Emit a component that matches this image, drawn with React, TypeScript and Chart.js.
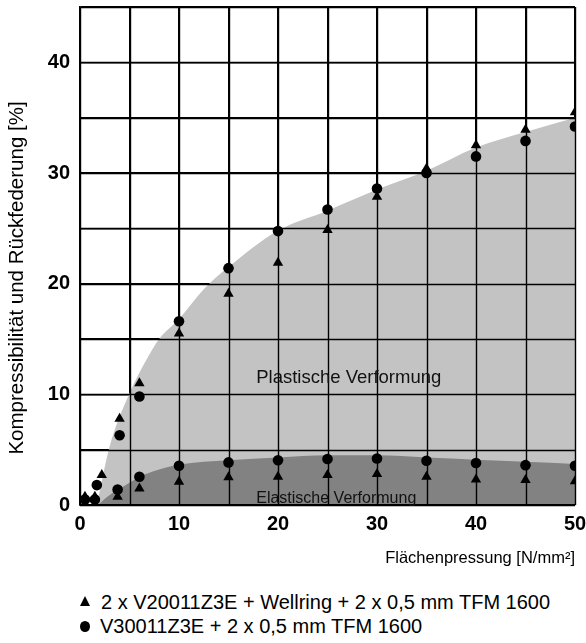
import { useEffect, useRef } from 'react';
import { Chart, registerables } from 'chart.js';

Chart.register(...registerables);

// Triangle series: 2 x V20011Z3E + Wellring + 2 x 0,5 mm TFM 1600
const triTotalX = [0.5, 1.5, 2.2, 4, 6, 10, 15, 20, 25, 30, 35, 40, 45, 50];
const triTotal = [0.75, 0.75, 2.7, 7.8, 11.0, 15.5, 19.1, 21.9, 24.85, 27.85, 30.4, 32.5, 33.9, 35.5];
const triElasticX = [3.8, 6, 10, 15, 20, 25, 30, 35, 40, 45, 50];
const triElastic = [0.75, 1.5, 2.1, 2.5, 2.55, 2.7, 2.8, 2.55, 2.3, 2.25, 2.15];

// Circle series: V30011Z3E + 2 x 0,5 mm TFM 1600
const circTotalX = [0.5, 1.5, 1.7, 4, 6, 10, 15, 20, 25, 30, 35, 40, 45, 50];
const circTotal = [0.5, 0.5, 1.8, 6.3, 9.8, 16.6, 21.4, 24.75, 26.7, 28.6, 30.0, 31.5, 32.9, 34.2];
const circElasticX = [3.8, 6, 10, 15, 20, 25, 30, 35, 40, 45, 50];
const circElastic = [1.4, 2.55, 3.55, 3.85, 4.05, 4.15, 4.2, 4.0, 3.8, 3.6, 3.55];

// Shaded envelopes
const plasticEnvX = [1.7, 3, 5, 6.7, 8, 10, 12.5, 15, 20, 25, 30, 35, 40, 45, 50];
const plasticEnv = [0, 5.3, 10.1, 13.1, 15, 16.8, 19.5, 21.5, 24.8, 26.6, 28.5, 30.2, 32.3, 33.7, 35.0];
const elasticEnvX = [1.8, 3, 5, 6, 8, 10, 15, 20, 25, 30, 35, 40, 45, 50];
const elasticEnv = [0, 0.9, 2.0, 2.55, 3.2, 3.65, 4.05, 4.3, 4.5, 4.5, 4.3, 4.1, 3.9, 3.7];

const xTicks = [0, 10, 20, 30, 40, 50];
const yTicks = [0, 10, 20, 30, 40];

const legendLabels = [
  '2 x V20011Z3E + Wellring + 2 x 0,5 mm TFM 1600',
  'V30011Z3E + 2 x 0,5 mm TFM 1600',
];
const regionLabels = ['Plastische Verformung', 'Elastische Verformung'];
const yTitle = 'Kompressibilität und Rückfederung [%]';
const xTitle = 'Flächenpressung [N/mm²]';

const FONT = '"Liberation Sans", Arial, sans-serif';

const pts = (xs: number[], ys: number[]) => xs.map((x, i) => ({ x, y: ys[i] }));

export default function App() {
  const ref = useRef<HTMLCanvasElement>(null);

  useEffect(() => {
    document.body.style.margin = '0';
    const overlayPlugin = {
      id: 'overlay',
      afterDatasetsDraw(chart: any) {
        const { ctx, scales, chartArea } = chart;
        ctx.save();
        ctx.strokeStyle = '#000';
        ctx.lineWidth = 1.4;
        ctx.beginPath();
        scales.x.ticks.forEach((t: any) => {
          const px = Math.round(scales.x.getPixelForValue(t.value)) + 0.5;
          ctx.moveTo(px, chartArea.top);
          ctx.lineTo(px, chartArea.bottom);
        });
        scales.y.ticks.forEach((t: any) => {
          const py = Math.round(scales.y.getPixelForValue(t.value)) + 0.5;
          ctx.moveTo(chartArea.left, py);
          ctx.lineTo(chartArea.right, py);
        });
        ctx.stroke();
        ctx.restore();
      },
      afterDraw(chart: any) {
        const { ctx, scales } = chart;
        const x = scales.x.getPixelForValue(17.8);
        ctx.save();
        ctx.fillStyle = '#111';
        ctx.textAlign = 'left';
        ctx.textBaseline = 'alphabetic';
        ctx.font = `18.5px ${FONT}`;
        ctx.fillText(regionLabels[0], x, scales.y.getPixelForValue(11.0));
        ctx.font = `16px ${FONT}`;
        ctx.fillText(regionLabels[1], x, scales.y.getPixelForValue(0.2));
        ctx.translate(17, 278);
        ctx.rotate(-Math.PI / 2);
        ctx.textAlign = 'center';
        ctx.textBaseline = 'middle';
        ctx.fillStyle = '#000';
        ctx.font = `20.5px ${FONT}`;
        ctx.fillText(yTitle, 0, 0);
        ctx.restore();
      },
    };

    const chart = new Chart(ref.current!, {
      type: 'scatter',
      data: {
        datasets: [
          {
            type: 'line',
            data: pts(plasticEnvX, plasticEnv),
            fill: 'origin',
            backgroundColor: '#c3c3c3',
            borderWidth: 0,
            pointRadius: 0,
            cubicInterpolationMode: 'monotone',
            order: 10,
          },
          {
            type: 'line',
            data: pts(elasticEnvX, elasticEnv),
            fill: 'origin',
            backgroundColor: '#828282',
            borderWidth: 0,
            pointRadius: 0,
            cubicInterpolationMode: 'monotone',
            order: 9,
          },
          {
            data: pts(triTotalX, triTotal),
            pointStyle: 'triangle',
            pointRadius: 6,
            backgroundColor: '#000',
            borderWidth: 0,
            order: 2,
          },
          {
            data: pts(triElasticX, triElastic),
            pointStyle: 'triangle',
            pointRadius: 6,
            backgroundColor: '#000',
            borderWidth: 0,
            order: 2,
          },
          {
            data: pts(circTotalX, circTotal),
            pointStyle: 'circle',
            pointRadius: 5.3,
            backgroundColor: '#000',
            borderWidth: 0,
            order: 1,
          },
          {
            data: pts(circElasticX, circElastic),
            pointStyle: 'circle',
            pointRadius: 5.3,
            backgroundColor: '#000',
            borderWidth: 0,
            order: 1,
          },
        ],
      } as any,
      options: {
        animation: false,
        responsive: false,
        maintainAspectRatio: false,
        layout: { padding: { top: 7, right: 11, left: 0, bottom: 0 } },
        plugins: { legend: { display: false }, tooltip: { enabled: false } },
        scales: {
          x: {
            type: 'linear',
            min: 0,
            max: 50,
            afterFit: (s: any) => {
              s.height = 75;
              s.paddingLeft = 0;
              s.paddingRight = 0;
            },
            ticks: {
              stepSize: 5,
              autoSkip: false,
              maxRotation: 0,
              padding: 7,
              color: '#000',
              font: { family: FONT, size: 20, weight: 'bold' },
              callback: (v: any) => (xTicks.includes(Number(v)) ? String(v) : ''),
            },
            grid: { color: '#000', lineWidth: 1.4, drawTicks: false },
            border: { color: '#000', width: 1.6, z: 1 },
            title: {
              display: true,
              text: xTitle,
              align: 'end',
              color: '#000',
              font: { family: FONT, size: 16.5 },
              padding: { top: 0, bottom: 12 },
            },
          },
          y: {
            type: 'linear',
            min: 0,
            max: 45,
            afterFit: (s: any) => {
              s.width = 80;
              s.paddingTop = 0;
              s.paddingBottom = 0;
            },
            ticks: {
              stepSize: 5,
              autoSkip: false,
              padding: 10,
              color: '#000',
              font: { family: FONT, size: 20, weight: 'bold' },
              callback: (v: any) => (yTicks.includes(Number(v)) ? String(v) : ''),
            },
            grid: { color: '#000', lineWidth: 1.4, drawTicks: false },
            border: { color: '#000', width: 1.6, z: 1 },
            title: { display: false },
          },
        },
      } as any,
      plugins: [overlayPlugin],
    });
    return () => chart.destroy();
  }, []);

  const tri = (
    <span
      style={{
        display: 'inline-block',
        width: 0,
        height: 0,
        borderLeft: '5px solid transparent',
        borderRight: '5px solid transparent',
        borderBottom: '10px solid #000',
        marginRight: 11,
        verticalAlign: 'middle',
        position: 'relative',
        top: -3,
      }}
    />
  );
  const dot = (
    <span
      style={{
        display: 'inline-block',
        width: 10,
        height: 11,
        borderRadius: '50%',
        background: '#000',
        marginRight: 10,
        verticalAlign: 'middle',
        position: 'relative',
        top: -1,
      }}
    />
  );

  return (
    <div style={{ position: 'fixed', left: 0, top: 0, width: 586, height: 643, background: '#fff' }}>
      <canvas ref={ref} width={586} height={580} style={{ display: 'block', width: 586, height: 580 }} />
      <div
        style={{
          position: 'absolute',
          left: 80,
          top: 590,
          fontFamily: FONT,
          fontSize: 20,
          lineHeight: '24px',
          color: '#000',
          whiteSpace: 'nowrap',
        }}
      >
        <div>
          {tri}
          {legendLabels[0]}
        </div>
        <div>
          {dot}
          {legendLabels[1]}
        </div>
      </div>
    </div>
  );
}
